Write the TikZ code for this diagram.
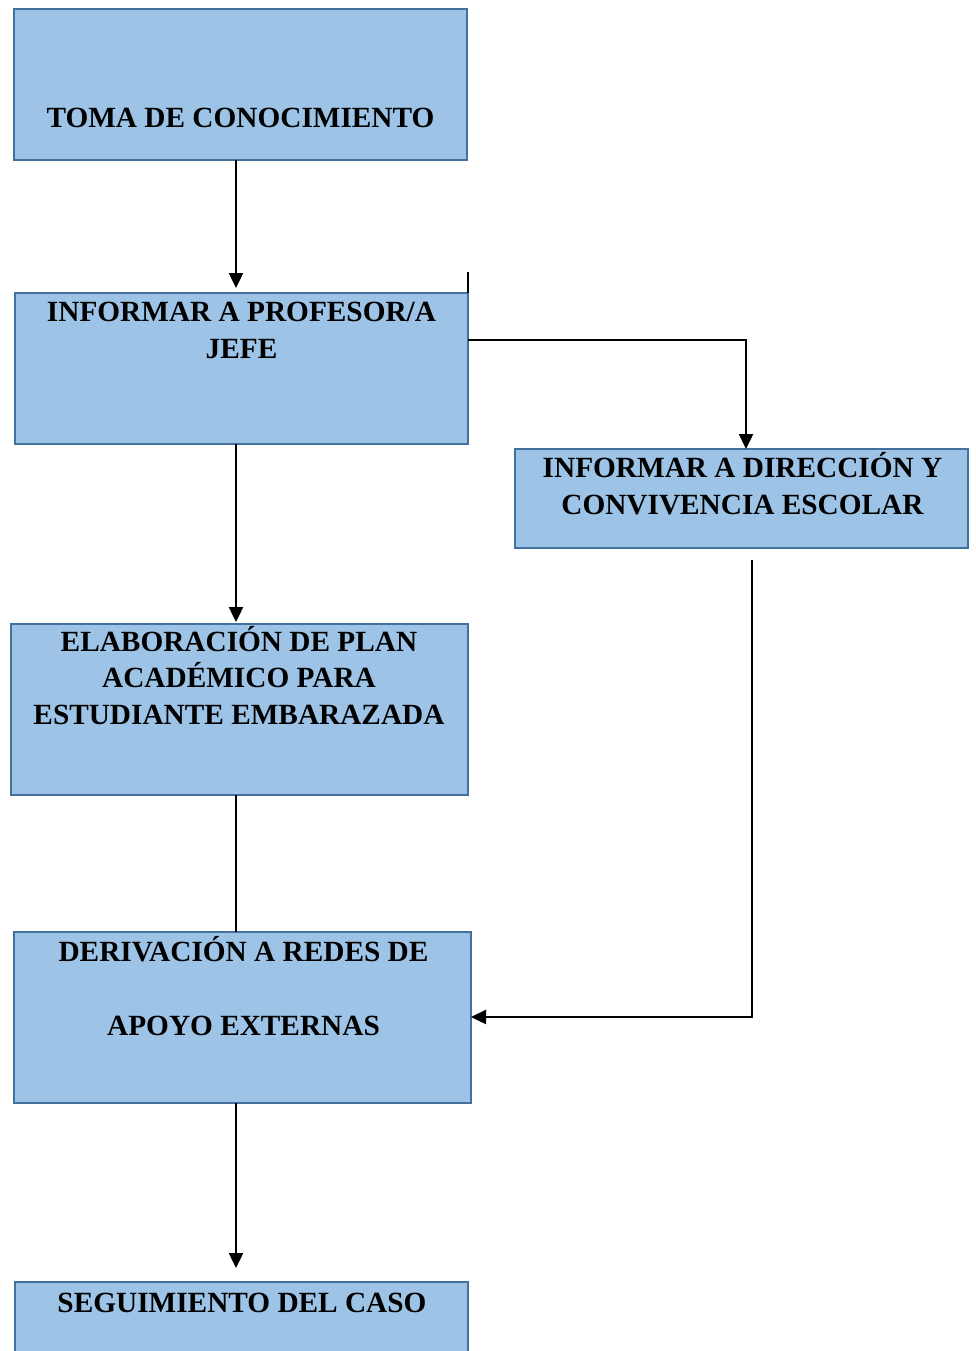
\documentclass[tikz,border=0pt]{standalone}
\usepackage{fontspec}
\setmainfont{Liberation Serif}
\usetikzlibrary{arrows.meta}
\definecolor{boxfill}{HTML}{9DC3E6}
\definecolor{boxdraw}{HTML}{41719C}
\begin{document}
\begin{tikzpicture}[x=1pt,y=-1pt,
  box/.style={draw=boxdraw, fill=boxfill, line width=2.2pt, inner sep=0pt, outer sep=0pt},
  lbl/.style={font=\bfseries\fontsize{29.3}{36.8}\selectfont, align=center, inner sep=0pt, anchor=base},
  conn/.style={line width=2.4pt},
  arr/.style={conn, -{Triangle[length=15pt,width=14pt]}}]
\useasboundingbox (0,0) rectangle (975,1351);
\clip (0,0) rectangle (975,1351);
% boxes
\node[box, minimum width=453pt, minimum height=151pt] (b1) at (240.5,84.5) {};
\node[box, minimum width=453pt, minimum height=151pt] (b2) at (241.5,368.5) {};
\node[box, minimum width=453pt, minimum height=99pt] (b3) at (741.5,498.5) {};
\node[box, minimum width=457pt, minimum height=171pt] (b4) at (239.5,709.5) {};
\node[box, minimum width=457pt, minimum height=171pt] (b5) at (242.5,1017.5) {};
\node[box, minimum width=453pt, minimum height=140pt] (b6) at (241.5,1352) {};
% texts (anchor=base is the baseline of the last line)
\node[lbl] (t1) at (240.5,127.6) {TOMA DE CONOCIMIENTO};
\node[lbl] (t2) at (241.5,358.6) {INFORMAR A PROFESOR/A\\JEFE};
\node[lbl] (t3) at (742.5,514.6) {INFORMAR A DIRECCIÓN Y\\CONVIVENCIA ESCOLAR};
\node[lbl] (t4) at (239,724.6) {ELABORACIÓN DE PLAN\\ACADÉMICO PARA\\ESTUDIANTE EMBARAZADA};
\node[lbl] (t5) at (243.5,1035.6) {DERIVACIÓN A REDES DE\\[37.5pt]APOYO EXTERNAS};
\node[lbl] (t6) at (242,1312.6) {SEGUIMIENTO DEL CASO};
% connector helper coordinates
\coordinate (spine) at (236,0);
\coordinate (s1) at (468,272);
\coordinate (k1) at (746,340);
\coordinate (k2) at (752,560);
\coordinate (k3) at (752,1017);
% connectors
\draw[arr, shorten >=5pt] (b1.south -| spine) -- (b2.north -| spine);
\draw[conn] (s1) -- (s1 |- b2.north);
\draw[arr] (k1 -| b2.east) -- (k1) -- (k1 |- b3.north);
\draw[arr, shorten >=2pt] (b2.south -| spine) -- (b4.north -| spine);
\draw[conn] (b4.south -| spine) -- (b5.north -| spine);
\draw[arr] (k2) -- (k3) -- (k3 -| b5.east);
\draw[arr, shorten >=14pt] (b5.south -| spine) -- (b6.north -| spine);
\end{tikzpicture}
\end{document}
